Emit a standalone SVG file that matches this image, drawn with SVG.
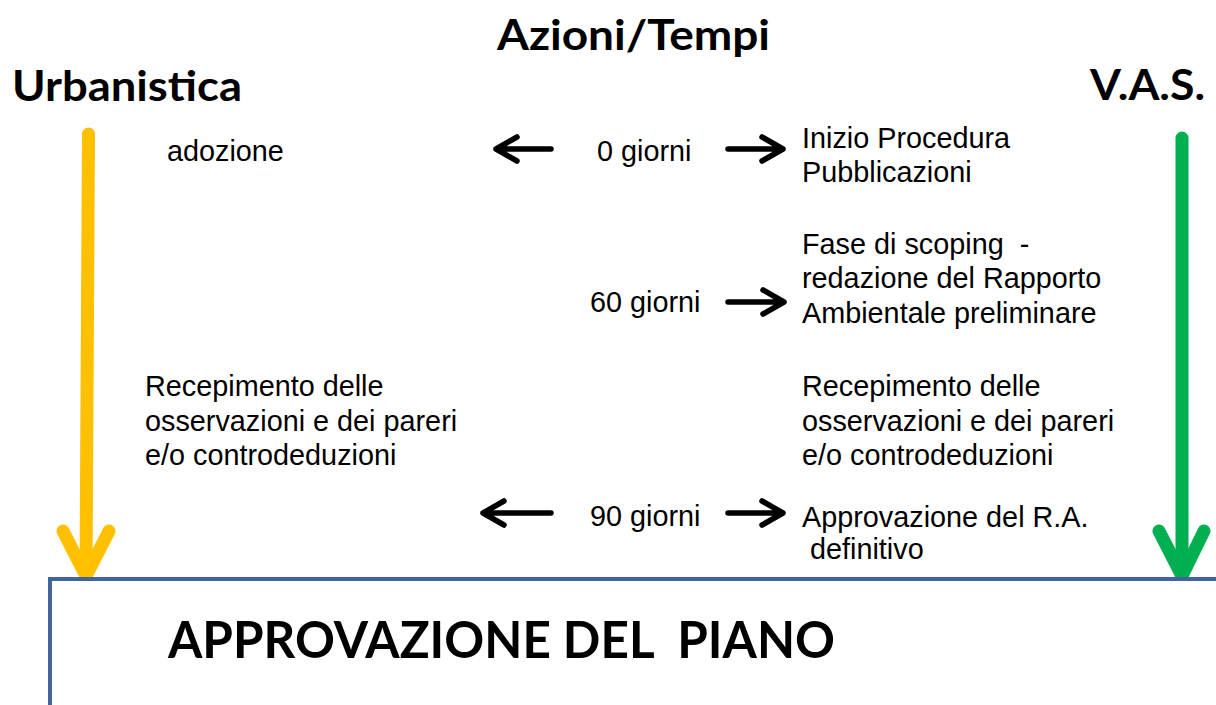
<svg xmlns="http://www.w3.org/2000/svg" width="1216" height="705" viewBox="0 0 1216 705">
<style>
.t{font-family:"Liberation Sans",Arial,sans-serif;font-size:28.8px;fill:#000}
.h{font-family:Lato,"Open Sans",sans-serif;font-weight:bold;font-size:42px;fill:#000}
.big{font-family:Lato,"Open Sans",sans-serif;font-weight:bold;font-size:52px;fill:#000;white-space:pre}
.ar{fill:none;stroke:#000;stroke-width:5.5;stroke-linecap:round;stroke-linejoin:round}
.yl{fill:none;stroke:#FFC000;stroke-width:13;stroke-linecap:round;stroke-linejoin:round}
.gr{fill:none;stroke:#00B050;stroke-width:13;stroke-linecap:round;stroke-linejoin:round}
</style>
<rect width="1216" height="705" fill="#fff"/>
<g id="headers">
<text class="h" x="497" y="50" textLength="273" lengthAdjust="spacingAndGlyphs">Azioni/Tempi</text>
<text class="h" x="12" y="101" textLength="230" lengthAdjust="spacingAndGlyphs">Urbanistica</text>
<text class="h" x="1090" y="100" textLength="115" lengthAdjust="spacingAndGlyphs">V.A.S.</text>
</g>
<g id="connectors">
<path class="yl" d="M88.5 134 L86 574"/>
<path class="yl" d="M63 531 L86 576 L109 531"/>
<path class="gr" d="M1182 138 L1182 574"/>
<path class="gr" d="M1159 531 L1182 576 L1204 531"/>
<path class="ar" d="M551 149 H496 M517 137 L496 149 L517 161"/>
<path class="ar" d="M728 149 H783 M762 137 L783 149 L762 161"/>
<path class="ar" d="M728 302 H784 M763 290 L784 302 L763 314"/>
<path class="ar" d="M551 513 H483 M504 501 L483 513 L504 525"/>
<path class="ar" d="M728 513 H783 M762 501 L783 513 L762 525"/>
</g>
<g id="row0">
<text class="t" x="167" y="161">adozione</text>
<text class="t" x="597" y="161">0 giorni</text>
<text class="t" x="802" y="148">Inizio Procedura</text>
<text class="t" x="802" y="182">Pubblicazioni</text>
</g>
<g id="row60">
<text class="t" x="590" y="312">60 giorni</text>
<text class="t" x="802" y="254" xml:space="preserve">Fase di scoping  -</text>
<text class="t" x="802" y="288">redazione del Rapporto</text>
<text class="t" x="802" y="323">Ambientale preliminare</text>
</g>
<g id="recepimento-urb">
<text class="t" x="145" y="396">Recepimento delle</text>
<text class="t" x="145" y="431">osservazioni e dei pareri</text>
<text class="t" x="145" y="465">e/o controdeduzioni</text>
</g>
<g id="recepimento-vas">
<text class="t" x="802" y="396">Recepimento delle</text>
<text class="t" x="802" y="431">osservazioni e dei pareri</text>
<text class="t" x="802" y="465">e/o controdeduzioni</text>
</g>
<g id="row90">
<text class="t" x="590" y="526">90 giorni</text>
<text class="t" x="802" y="527">Approvazione del R.A.</text>
<text class="t" x="810" y="559">definitivo</text>
</g>
<g id="approvazione">
<rect x="50" y="579" width="1200" height="160" fill="#fff" stroke="#41659A" stroke-width="4"/>
<text class="big" x="168" y="658" textLength="667" lengthAdjust="spacingAndGlyphs">APPROVAZIONE DEL  PIANO</text>
</g>
</svg>
